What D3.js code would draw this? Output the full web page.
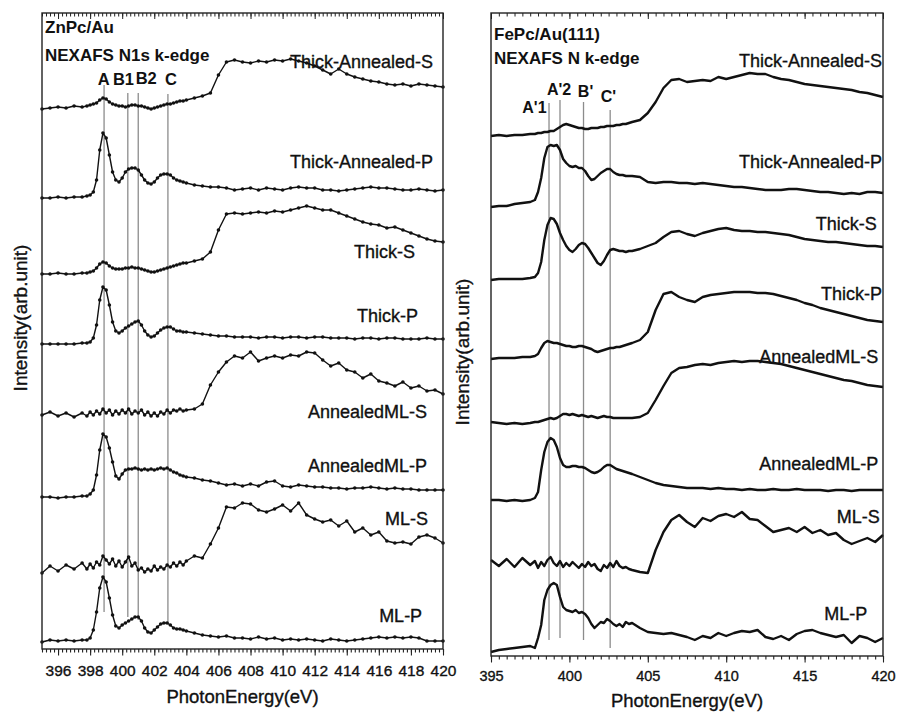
<!DOCTYPE html>
<html>
<head>
<meta charset="utf-8">
<script src="https://cdnjs.cloudflare.com/ajax/libs/d3/7.8.5/d3.min.js"></script>
<style>
  body { margin: 0; background: #fff; }
  text { font-family: "Liberation Sans", Arial, sans-serif; fill: #111; }
  .heavy { stroke: #111; stroke-width: 0.35px; }
</style>
</head>
<body>
<svg id="chart" width="897" height="715"></svg>
<script>
// photon energy grid (eV), shared by every spectrum
const energyGrid = [395, 395.5, 396, 396.5, 397, 397.5,
  397.8, 398, 398.2, 398.4, 398.6, 398.8, 399, 399.2, 399.4, 399.6, 399.8, 400, 400.2, 400.4, 400.6, 400.8,
  401, 401.2, 401.4, 401.6, 401.8, 402, 402.2, 402.4, 402.6, 402.8, 403, 403.2, 403.4, 403.6, 403.8, 404,
  404.5, 405, 405.5, 406, 406.5, 407, 407.5, 408, 408.5, 409, 409.5, 410, 410.5, 411, 411.5, 412, 412.5,
  413, 413.5, 414, 414.5, 415, 415.5, 416, 416.5, 417, 417.5, 418, 418.5, 419, 419.5, 420];

const seriesNames = ["Thick-Annealed-S", "Thick-Annealed-P", "Thick-S", "Thick-P",
  "AnnealedML-S", "AnnealedML-P", "ML-S", "ML-P"];

const znpcTicks = [396, 398, 400, 402, 404, 406, 408, 410, 412, 414, 416, 418, 420];
const fepcTicks = [395, 400, 405, 410, 415, 420];

// ZnPc/Au spectra, stacked intensity (arb. units)
const znThickAnnealedS = [54.0, 54.1, 54.2, 54.1, 54.3, 54.2,
  54.3, 54.4, 54.5, 54.6, 54.9, 55.1, 55.0, 54.7, 54.5, 54.4, 54.3, 54.3, 54.2, 54.3, 54.4, 54.4,
  54.3, 54.3, 54.2, 54.1, 54.0, 54.1, 54.2, 54.3, 54.4, 54.5, 54.5, 54.6, 54.7, 54.8, 54.8, 54.9,
  55.1, 55.3, 55.6, 57.4, 58.7, 58.9, 58.7, 58.6, 58.8, 58.7, 58.9, 58.8, 59.0, 58.8, 58.6, 58.3, 57.9,
  57.5, 58.0, 57.5, 57.2, 57.0, 56.8, 56.7, 56.5, 56.4, 56.5, 56.3, 56.5, 56.4, 56.3, 56.2];
const znThickAnnealedP = [45.1, 45.1, 45.2, 45.1, 45.2, 45.2,
  45.3, 45.4, 45.7, 46.9, 49.9, 51.6, 51.1, 49.4, 47.7, 46.9, 46.7, 47.1, 47.7, 48.0, 48.1, 48.1,
  47.9, 47.4, 46.9, 46.6, 46.5, 46.7, 47.1, 47.4, 47.5, 47.5, 47.4, 47.1, 46.9, 46.8, 46.7, 46.6,
  46.4, 46.3, 46.2, 46.2, 46.1, 45.9, 46.0, 46.1, 45.9, 46.1, 46.0, 45.9, 46.1, 46.2, 46.1, 46.1, 45.9,
  45.9, 45.8, 45.9, 46.0, 46.1, 46.2, 46.1, 46.1, 46.0, 45.9, 45.9, 46.0, 45.9, 45.8, 45.9];
const znThickS = [37.5, 37.5, 37.6, 37.5, 37.5, 37.6,
  37.6, 37.7, 37.8, 38.1, 38.5, 38.7, 38.6, 38.3, 38.1, 38.0, 38.0, 38.0, 38.1, 38.1, 38.2, 38.1,
  38.1, 38.0, 37.9, 37.8, 37.7, 37.7, 37.8, 37.9, 38.0, 38.1, 38.2, 38.3, 38.4, 38.5, 38.6, 38.6,
  38.8, 39.0, 39.7, 41.9, 43.5, 43.6, 43.5, 43.6, 43.7, 43.6, 43.8, 43.7, 43.9, 44.1, 44.3, 44.1, 43.9,
  43.9, 43.6, 43.3, 43.0, 42.7, 42.5, 42.4, 42.1, 42.2, 41.9, 41.6, 41.3, 41.0, 40.8, 40.7];
const znThickP = [30.5, 30.5, 30.5, 30.5, 30.5, 30.6,
  30.6, 30.7, 31.1, 32.4, 34.9, 36.2, 35.9, 34.4, 32.7, 31.8, 31.6, 31.8, 32.1, 32.3, 32.5, 32.7,
  32.8, 32.4, 31.8, 31.4, 31.2, 31.3, 31.6, 31.9, 32.1, 32.2, 32.2, 32.0, 31.8, 31.8, 31.7, 31.7,
  31.6, 31.5, 31.4, 31.3, 31.3, 31.2, 31.2, 31.2, 31.1, 31.2, 31.2, 31.1, 31.2, 31.2, 31.1, 31.2, 31.2,
  31.1, 31.1, 31.1, 31.0, 31.1, 31.1, 31.0, 31.1, 31.1, 31.0, 31.0, 31.0, 31.1, 31.0, 31.0];
const znAnnealedMLS = [23.4, 23.7, 23.3, 23.6, 23.2, 23.6,
  23.3, 23.7, 23.4, 23.8, 23.5, 24.0, 23.6, 23.9, 23.4, 23.8, 23.5, 23.9, 23.6, 24.0, 23.5, 23.8,
  23.6, 23.9, 23.4, 23.7, 23.3, 23.6, 23.3, 23.7, 23.5, 23.9, 23.6, 23.9, 23.8, 24.0, 23.8, 23.9,
  24.0, 24.5, 26.4, 27.7, 28.7, 29.3, 29.1, 29.7, 28.8, 29.1, 29.3, 29.1, 29.4, 29.3, 29.7, 29.6, 28.9,
  28.3, 28.6, 27.9, 27.7, 27.1, 27.5, 26.8, 26.6, 26.3, 26.7, 26.1, 26.3, 25.8, 25.9, 25.5];
const znAnnealedMLP = [15.2, 15.2, 15.1, 15.2, 15.2, 15.3,
  15.3, 15.5, 15.9, 17.4, 19.9, 21.5, 21.2, 20.1, 18.7, 17.3, 17.0, 17.5, 17.9, 18.0, 18.0, 18.1,
  18.0, 17.9, 18.0, 17.9, 18.0, 17.9, 18.0, 18.1, 18.0, 18.1, 17.9, 17.7, 17.6, 17.4, 17.3, 17.2,
  17.1, 16.9, 16.8, 16.6, 16.4, 16.5, 16.3, 16.5, 16.3, 16.7, 16.8, 16.3, 16.2, 16.4, 16.3, 16.2, 16.2,
  16.1, 16.1, 16.0, 16.1, 16.1, 16.2, 16.1, 16.0, 16.1, 16.0, 16.0, 15.9, 15.9, 15.9, 15.9];
const znMLS = [7.6, 8.3, 7.8, 8.4, 8.0, 8.6,
  8.0, 8.5, 8.1, 8.7, 8.4, 9.3, 8.9, 8.5, 9.0, 8.3, 8.8, 8.2, 8.7, 9.2, 8.3, 8.6,
  7.9, 8.1, 7.7, 8.0, 7.8, 8.3, 7.9, 8.2, 8.0, 8.4, 8.2, 8.6, 8.3, 8.7, 8.4, 8.8,
  9.3, 9.1, 10.5, 12.1, 14.2, 14.1, 14.6, 14.5, 13.9, 13.7, 14.0, 14.4, 13.8, 14.6, 13.4, 13.0, 12.7,
  12.9, 12.3, 12.8, 11.7, 12.1, 11.4, 11.7, 10.8, 10.6, 10.7, 10.5, 11.2, 11.4, 11.1, 10.6];
const znMLP = [0.7, 0.9, 0.8, 0.9, 0.8, 0.9,
  0.9, 1.1, 1.9, 3.7, 6.1, 7.2, 6.7, 5.1, 3.4, 2.3, 2.1, 2.4, 2.6, 2.8, 3.0, 3.2,
  3.2, 2.8, 2.1, 1.7, 1.6, 1.9, 2.2, 2.5, 2.6, 2.6, 2.4, 2.1, 2.0, 2.0, 1.9, 1.8,
  1.6, 1.4, 1.3, 1.2, 1.3, 1.1, 1.1, 1.0, 1.2, 1.0, 1.1, 0.9, 1.0, 0.9, 1.0, 0.9, 0.8,
  1.0, 0.9, 0.8, 0.9, 1.0, 1.1, 1.2, 1.1, 1.2, 1.1, 1.2, 1.1, 0.8, 0.8, 0.8];

// FePc/Au(111) spectra, stacked intensity (arb. units)
const feThickAnnealedS = [52.0, 52.1, 52.0, 52.1, 52.1, 52.2,
  52.2, 52.3, 52.3, 52.4, 52.4, 52.5, 52.5, 52.7, 52.9, 53.1, 53.2, 53.1, 53.0, 52.9, 52.8, 52.8,
  52.7, 52.7, 52.8, 52.8, 52.8, 52.9, 52.9, 53.0, 53.0, 53.0, 53.1, 53.1, 53.2, 53.2, 53.3, 53.4,
  53.6, 54.3, 55.4, 56.8, 57.6, 57.7, 57.4, 57.5, 57.6, 57.5, 57.9, 57.7, 57.9, 58.1, 58.3, 58.2, 58.2,
  57.9, 57.7, 57.6, 57.4, 57.2, 57.1, 57.0, 56.9, 56.8, 56.7, 56.6, 56.4, 56.3, 56.1, 55.9];
const feThickAnnealedP = [44.9, 45.0, 45.0, 45.2, 45.3, 45.4,
  45.6, 46.4, 47.8, 49.8, 50.9, 51.1, 51.0, 51.1, 50.6, 49.7, 49.3, 49.0, 48.9, 49.0, 48.8, 48.8,
  48.5, 48.0, 47.6, 47.7, 48.0, 48.3, 48.5, 48.7, 48.7, 48.4, 48.2, 48.1, 48.1, 48.0, 48.0, 48.0,
  47.9, 47.4, 47.3, 47.4, 47.4, 47.3, 47.3, 47.2, 47.3, 47.2, 47.1, 47.0, 46.9, 46.9, 46.8, 46.7, 46.6,
  46.6, 46.6, 46.7, 46.7, 46.6, 46.5, 46.4, 46.4, 46.3, 46.2, 46.3, 46.2, 46.4, 46.4, 46.3];
const feThickS = [37.6, 37.7, 37.7, 37.7, 37.7, 37.8,
  37.9, 38.3, 39.4, 41.6, 43.1, 43.8, 43.7, 43.2, 42.3, 41.6, 41.0, 40.6, 40.4, 40.7, 41.1, 41.3,
  41.2, 40.8, 40.3, 39.8, 39.3, 39.1, 39.5, 40.1, 40.6, 40.7, 40.6, 40.5, 40.5, 40.4, 40.5, 40.5,
  40.7, 41.0, 41.3, 41.9, 42.4, 42.5, 42.2, 42.0, 42.3, 42.5, 42.7, 42.8, 42.6, 42.5, 42.5, 42.4, 42.4,
  42.3, 42.2, 42.1, 41.9, 41.7, 41.6, 41.5, 41.4, 41.4, 41.3, 41.2, 41.1, 41.0, 41.0, 40.9];
const feThickP = [29.7, 29.8, 29.8, 29.8, 29.9, 29.9,
  30.0, 30.2, 30.8, 31.3, 31.5, 31.4, 31.3, 31.3, 31.2, 31.1, 31.0, 31.0, 30.9, 30.9, 31.0, 31.0,
  30.9, 30.8, 30.7, 30.5, 30.4, 30.5, 30.6, 30.7, 30.8, 30.8, 30.9, 30.9, 31.0, 31.1, 31.2, 31.3,
  31.6, 32.4, 34.6, 36.2, 36.4, 35.9, 35.6, 35.4, 35.9, 36.1, 36.2, 36.3, 36.4, 36.4, 36.4, 36.3, 36.3,
  36.2, 36.0, 35.8, 35.6, 35.3, 35.1, 34.8, 34.6, 34.4, 34.2, 34.0, 33.8, 33.6, 33.5, 33.4];
const feAnnealedMLS = [23.4, 23.3, 23.2, 23.3, 23.2, 23.3,
  23.4, 23.4, 23.5, 23.6, 23.7, 23.8, 23.7, 23.8, 24.0, 24.2, 24.2, 24.1, 24.2, 24.1, 24.0, 24.1,
  24.0, 23.9, 24.0, 23.9, 23.8, 23.9, 24.0, 23.9, 23.9, 23.8, 23.8, 23.8, 23.8, 23.8, 23.8, 23.8,
  23.9, 24.3, 25.6, 27.0, 28.3, 28.8, 28.9, 29.1, 29.2, 29.1, 29.3, 29.4, 29.5, 29.4, 29.5, 29.5, 29.4,
  29.3, 29.2, 29.0, 28.8, 28.6, 28.4, 28.2, 28.0, 27.8, 27.6, 27.5, 27.3, 27.1, 27.0, 26.9];
const feAnnealedMLP = [15.6, 15.6, 15.5, 15.6, 15.5, 15.6,
  15.8, 16.4, 18.6, 20.4, 21.4, 21.8, 21.6, 20.9, 19.8, 19.1, 18.9, 18.9, 19.0, 19.0, 18.9, 18.9,
  18.8, 18.6, 18.4, 18.3, 18.4, 18.6, 18.9, 19.1, 19.1, 18.9, 18.7, 18.6, 18.5, 18.4, 18.3, 18.2,
  17.9, 17.6, 17.3, 17.1, 17.0, 16.9, 16.8, 16.8, 16.8, 16.7, 16.8, 16.7, 16.7, 16.6, 16.7, 16.6, 16.6,
  16.7, 16.6, 16.6, 16.7, 16.6, 16.6, 16.6, 16.5, 16.6, 16.6, 16.5, 16.6, 16.6, 16.6, 16.6];
const feMLS = [9.6, 9.0, 9.7, 8.9, 9.8, 9.1,
  9.5, 8.8, 9.4, 9.0, 9.6, 9.9, 9.3, 9.0, 9.5, 8.9, 9.3, 9.0, 9.4, 9.1, 8.8, 9.2,
  8.9, 9.4, 9.0, 9.2, 8.7, 8.5, 9.1, 8.8, 9.3, 8.9, 9.5, 9.0, 8.8, 8.9, 8.7, 8.6,
  8.4, 8.3, 10.6, 12.4, 13.6, 14.1, 13.4, 12.9, 13.8, 13.5, 14.0, 14.2, 13.9, 14.4, 13.7, 13.6, 13.0,
  12.4, 12.6, 12.8, 12.4, 12.9, 12.3, 12.6, 12.1, 12.3, 11.6, 11.2, 11.5, 11.8, 11.4, 12.1];
const feMLP = [0.4, 0.6, 0.7, 0.8, 0.9, 1.0,
  0.8, 1.8, 3.1, 5.6, 6.6, 7.1, 7.3, 7.1, 5.9, 4.9, 4.6, 4.5, 4.4, 4.6, 4.3, 4.4,
  4.2, 3.8, 3.2, 2.8, 3.1, 3.4, 3.3, 3.7, 3.5, 3.2, 3.0, 3.2, 2.9, 3.4, 3.2, 3.3,
  2.8, 2.4, 2.3, 2.2, 2.3, 2.1, 1.9, 1.6, 2.0, 1.8, 2.3, 2.0, 2.3, 2.5, 2.4, 2.6, 1.9,
  1.7, 2.0, 1.6, 2.2, 2.5, 2.6, 2.3, 2.1, 1.9, 2.1, 1.3, 2.0, 1.8, 1.4, 1.8];

// peak guide lines: energy, upper and lower end (arb. units)
const znPeakNames = ["A", "B1", "B2", "C"];
const znPeakEnergy = [398.87, 400.35, 401.0, 402.85];
const znPeakTop = [56.4, 55.6, 55.6, 55.5];
const znPeakBottom = [3.7, 3.2, 2.9, 2.6];
const fePeakNames = ["A'1", "A'2", "B'", "C'"];
const fePeakEnergy = [398.7, 399.4, 400.9, 402.6];
const fePeakTop = [55.3, 55.6, 55.4, 54.6];
const fePeakBottom = [1.6, 1.8, 1.6, 0.8];

const svg = d3.select("#chart");

const panels = [
  {
    left: 42, right: 443, top: 13, bottom: 649, yMax: 63.6,
    series: [znThickAnnealedS, znThickAnnealedP, znThickS, znThickP, znAnnealedMLS, znAnnealedMLP, znMLS, znMLP],
    markers: true, ticks: znpcTicks, minorStep: 0.25, tickFont: 15.5, tickPad: 9,
    titleLines: [["ZnPc/Au", 33], ["NEXAFS N1s k-edge", 61]],
    // label anchors (right end energy, baseline intensity)
    labelAt: [[419.38, 58.1], [419.38, 48.1], [418.25, 39.1], [418.44, 32.7], [419.0, 23.1], [419.0, 17.7], [419.06, 12.4], [418.7, 2.7]],
    peakNames: znPeakNames, peakEnergy: znPeakEnergy, peakTop: znPeakTop, peakBottom: znPeakBottom,
    peakLabelAt: [398.85, 400.08, 401.5, 403.04], peakLabelY: [56.4, 56.4, 56.5, 56.4], peakFont: 16.5,
    yTitle: [27, 318], xTitleY: 703
  },
  {
    left: 491, right: 883, top: 13, bottom: 656, yMax: 64.3,
    series: [feThickAnnealedS, feThickAnnealedP, feThickS, feThickP, feAnnealedMLS, feAnnealedMLP, feMLS, feMLP],
    markers: false, ticks: fepcTicks, minorStep: 0.5, tickFont: 14.5, tickPad: 8,
    titleLines: [["FePc/Au(111)", 40], ["NEXAFS N k-edge", 64]],
    labelAt: [[419.94, 58.9], [419.94, 48.8], [419.6, 42.6], [419.94, 35.6], [419.7, 29.3], [419.7, 18.6], [419.8, 13.3], [419.0, 3.6]],
    peakNames: fePeakNames, peakEnergy: fePeakEnergy, peakTop: fePeakTop, peakBottom: fePeakBottom,
    peakLabelAt: [397.77, 399.34, 401.03, 402.49], peakLabelY: [54.3, 56.1, 55.9, 55.4], peakFont: 16,
    yTitle: [469, 352], xTitleY: 707
  }
];

panels.forEach(p => {
  const x = d3.scaleLinear().domain([395, 420]).range([p.left, p.right]);
  const y = d3.scaleLinear().domain([0, p.yMax]).range([p.bottom, p.top]);
  const g = svg.append("g");

  // grey guide lines through the resonances
  g.append("g").selectAll("line")
    .data(p.peakEnergy)
    .join("line")
    .attr("x1", d => x(d)).attr("x2", d => x(d))
    .attr("y1", (d, i) => y(p.peakTop[i]))
    .attr("y2", (d, i) => y(p.peakBottom[i]))
    .attr("stroke", "#8c8c8c")
    .attr("stroke-width", 1.3);

  const line = d3.line()
    .x((d, i) => x(energyGrid[i]))
    .y(d => y(d));

  p.series.forEach(s => {
    g.append("path")
      .datum(s)
      .attr("d", line)
      .attr("fill", "none")
      .attr("stroke", "#111")
      .attr("stroke-width", p.markers ? 1.4 : 2.4)
      .attr("stroke-linejoin", "round");
    if (p.markers) {
      g.append("g").selectAll("circle")
        .data(s)
        .join("circle")
        .attr("cx", (d, i) => x(energyGrid[i]))
        .attr("cy", d => y(d))
        .attr("r", 1.8)
        .attr("fill", "#111");
    }
  });

  // frame
  g.append("rect")
    .attr("x", p.left).attr("y", p.top)
    .attr("width", p.right - p.left).attr("height", p.bottom - p.top)
    .attr("fill", "none").attr("stroke", "#222").attr("stroke-width", 1.4);

  const minor = d3.range(395, 420.001, p.minorStep);

  // bottom axis (ticks outward)
  g.append("g")
    .attr("transform", `translate(0,${p.bottom})`)
    .call(d3.axisBottom(x).tickValues(minor).tickSize(3.5).tickFormat(""))
    .call(a => a.select(".domain").remove());
  const bottomAxis = g.append("g")
    .attr("transform", `translate(0,${p.bottom})`)
    .call(d3.axisBottom(x).tickValues(p.ticks).tickSize(6.5).tickPadding(p.tickPad).tickFormat(d3.format("d")));
  bottomAxis.select(".domain").remove();
  bottomAxis.selectAll("text")
    .attr("class", "heavy")
    .style("font-size", p.tickFont + "px")
    .style("font-family", "'Liberation Sans', Arial, sans-serif")
    .attr("fill", "#111");
  g.selectAll(".tick line").attr("stroke", "#222").attr("stroke-width", 1.1);

  // top axis (ticks inward)
  g.append("g")
    .attr("transform", `translate(0,${p.top})`)
    .call(d3.axisBottom(x).tickValues(minor).tickSize(3.5).tickFormat(""))
    .call(a => a.select(".domain").remove())
    .selectAll("line").attr("stroke", "#222");
  g.append("g")
    .attr("transform", `translate(0,${p.top})`)
    .call(d3.axisBottom(x).tickValues(p.ticks).tickSize(6).tickFormat(""))
    .call(a => a.select(".domain").remove())
    .selectAll("line").attr("stroke", "#222");

  // spectrum labels
  g.append("g").selectAll("text")
    .data(seriesNames)
    .join("text")
    .attr("class", "heavy")
    .attr("x", (d, i) => x(p.labelAt[i][0]))
    .attr("y", (d, i) => y(p.labelAt[i][1]))
    .attr("text-anchor", "end")
    .style("font-size", "18px")
    .text(d => d);

  // resonance labels
  g.append("g").selectAll("text")
    .data(p.peakNames)
    .join("text")
    .attr("x", (d, i) => x(p.peakLabelAt[i]))
    .attr("y", (d, i) => y(p.peakLabelY[i]))
    .attr("text-anchor", "middle")
    .style("font-size", p.peakFont + "px")
    .style("font-weight", "bold")
    .text(d => d);

  // panel titles
  g.append("g").selectAll("text")
    .data(p.titleLines)
    .join("text")
    .attr("x", p.left + 3)
    .attr("y", d => d[1])
    .style("font-size", "17px")
    .style("font-weight", "bold")
    .text(d => d[0]);

  // axis titles
  g.append("text")
    .attr("class", "heavy")
    .attr("x", (p.left + p.right) / 2)
    .attr("y", p.xTitleY)
    .attr("text-anchor", "middle")
    .style("font-size", "18.5px")
    .text("PhotonEnergy(eV)");
  g.append("text")
    .attr("class", "heavy")
    .attr("transform", `translate(${p.yTitle[0]},${p.yTitle[1]}) rotate(-90)`)
    .attr("text-anchor", "middle")
    .style("font-size", "19px")
    .text("Intensity(arb.unit)");
});
</script>
</body>
</html>
